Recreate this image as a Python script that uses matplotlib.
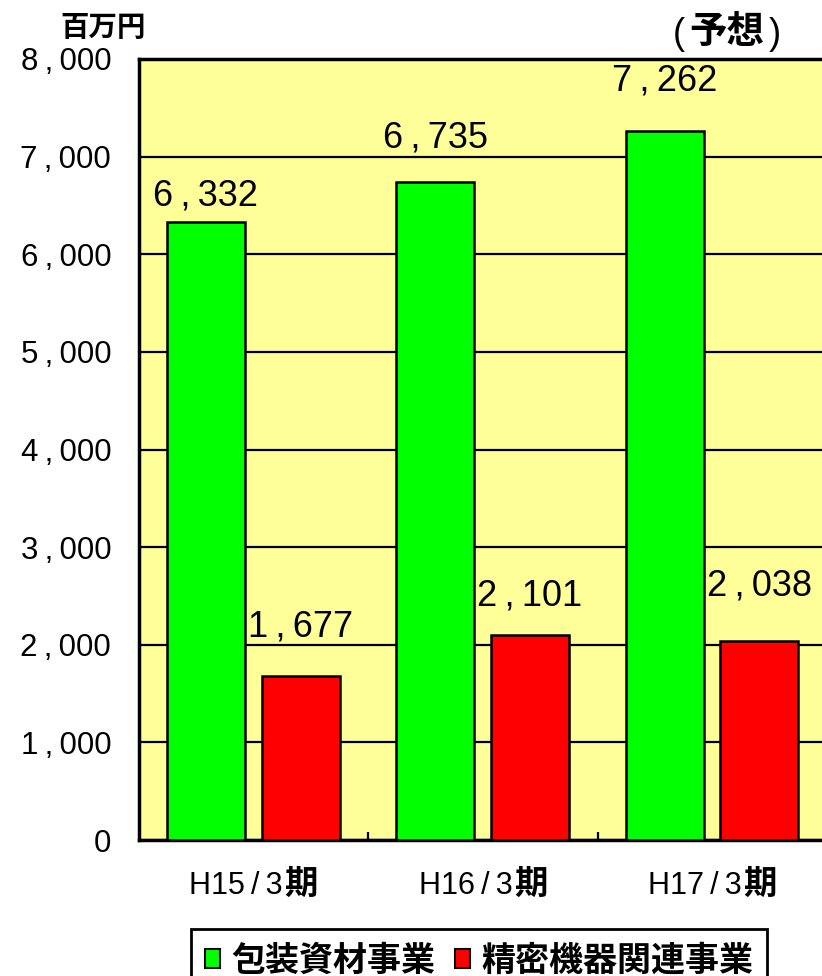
import numpy as np
import matplotlib
matplotlib.use("Agg")
import matplotlib.pyplot as plt
from matplotlib.patches import Patch
from matplotlib.offsetbox import TextArea, HPacker, AnnotationBbox

# data
periods = ["H15/3", "H16/3", "H17/3"]
period_suffix = "期"
packaging = [6332, 6735, 7262]
precision = [1677, 2101, 2038]
series_names = ["包装資材事業", "精密機器関連事業"]
y_ticks = [0, 1000, 2000, 3000, 4000, 5000, 6000, 7000, 8000]
unit_label = "百万円"
forecast_label = "予想"

# label lift above each bar (points)
lift_green = [12, 25, 29]
lift_red = [29, 21, 33]

LATIN = ["Liberation Sans", "DejaVu Sans"]
CJK = ["Noto Sans CJK JP", "DejaVu Sans"]


def fmt(v):
    s = f"{v:,}"
    return s.replace(",", "\u2009,\u2009")


fig = plt.figure(figsize=(8.22, 9.76), dpi=100)
ax = fig.add_axes([139 / 822, 1 - 840 / 976, (827 - 139) / 822, (840 - 59) / 976])
ax.set_facecolor("#FFFF99")

x = np.arange(len(periods))
w = 0.34
ax.bar(x - 0.208, packaging, width=w, color="#00FF00", edgecolor="black", linewidth=1.8, zorder=3)
ax.bar(x + 0.205, precision, width=w, color="#FF0000", edgecolor="black", linewidth=1.8, zorder=3)

for i in range(len(periods)):
    ax.annotate(fmt(packaging[i]), (x[i] - 0.208, packaging[i]), xytext=(0, lift_green[i]),
                textcoords="offset points", ha="center", va="baseline",
                fontsize=26, family=LATIN, zorder=4)
    ax.annotate(fmt(precision[i]), (x[i] + 0.205, precision[i]), xytext=(0, lift_red[i]),
                textcoords="offset points", ha="center", va="baseline",
                fontsize=26, family=LATIN, zorder=4)

ax.set_xlim(-0.5, 2.5)
ax.set_ylim(0, 8000)
ax.set_yticks(y_ticks)
ax.set_yticklabels([fmt(v) for v in y_ticks], fontsize=22.5, family=LATIN)
ax.tick_params(axis="y", length=0, pad=20)
ax.yaxis.grid(True, color="black", linewidth=1.6)
ax.set_axisbelow(True)

ax.set_xticks([])
ax.set_xticks([0.5, 1.5], minor=True)
ax.tick_params(axis="x", which="minor", direction="in", length=6, width=1.6, color="black")

for side in ["left", "top", "bottom"]:
    ax.spines[side].set_linewidth(2.5)
ax.spines["right"].set_visible(False)

# category labels: latin part plus bold 期
for i, p in enumerate(periods):
    box = HPacker(children=[
        TextArea(p.replace("/", "\u2009/\u2009"), textprops=dict(fontsize=22, family=LATIN)),
        TextArea(period_suffix, textprops=dict(fontsize=24, weight="bold", family=CJK)),
    ], align="baseline", pad=0, sep=1)
    ab = AnnotationBbox(box, (x[i], 0), xycoords=ax.get_xaxis_transform(),
                        xybox=(0, -32), boxcoords="offset points",
                        frameon=False, box_alignment=(0.5, 0.5), annotation_clip=False)
    ax.add_artist(ab)

fig.text(103 / 822, 1 - 28 / 976, unit_label, ha="center", va="center",
         fontsize=20.5, weight="bold", family=CJK)

fc_box = HPacker(children=[
    TextArea("(", textprops=dict(fontsize=26, family=LATIN)),
    TextArea(forecast_label, textprops=dict(fontsize=27, weight="bold", family=CJK)),
    TextArea(")", textprops=dict(fontsize=26, family=LATIN)),
], align="baseline", pad=0, sep=3)
fig.add_artist(AnnotationBbox(fc_box, (727 / 822, 1 - 32 / 976), xycoords="figure fraction",
                              frameon=False, box_alignment=(0.5, 0.5)))

handles = [Patch(facecolor="#00FF00", edgecolor="black", linewidth=1.5),
           Patch(facecolor="#FF0000", edgecolor="black", linewidth=1.5)]
leg = fig.legend(handles, series_names, loc="upper left",
                 bbox_to_anchor=(191 / 822, 1 - 929 / 976), ncol=2,
                 prop=dict(family=CJK, weight="bold", size=24.5),
                 handlelength=0.45, handleheight=0.5, handletextpad=0.35,
                 columnspacing=0.55, borderpad=0.4, borderaxespad=0,
                 fancybox=False, framealpha=1, edgecolor="black")
leg.get_frame().set_linewidth(2)

fig.savefig("out.png", dpi=100)
